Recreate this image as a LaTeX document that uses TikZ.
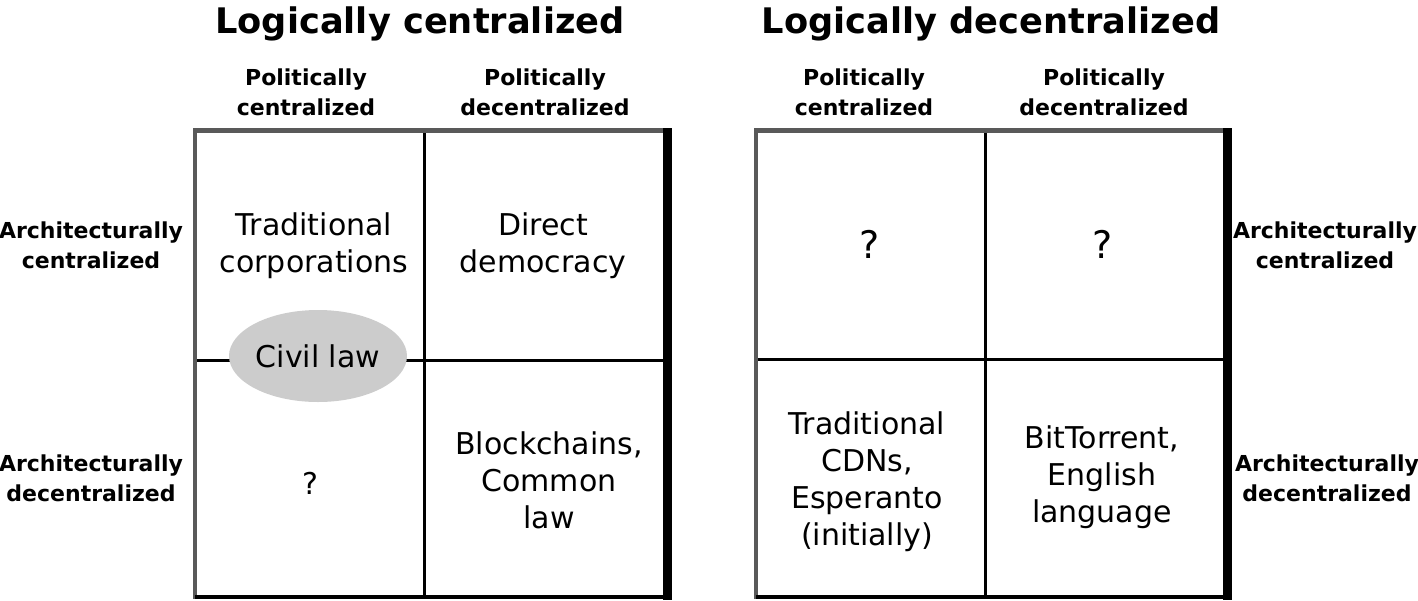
\documentclass[tikz,border=0pt]{standalone}
\usepackage{fontspec}
\setmainfont{DejaVu Sans}
\usetikzlibrary{shapes.geometric,positioning}

\begin{document}
\begin{tikzpicture}[x=0.5pt,y=-0.5pt,
        cell/.style={align=center,font=\fontsize{15}{18.5}\selectfont},
        qmark/.style={font=\fontsize{19}{22}\selectfont},
        label/.style={align=center,font=\bfseries\fontsize{11}{15}\selectfont},
        title/.style={font=\bfseries\fontsize{17.6}{20}\selectfont},
        inner/.style={line width=1.5pt},
        edgeA/.style={line width=2.3pt,black!65},
        edgeB/.style={line width=4.5pt}]

    \useasboundingbox (0,0) rectangle (1418,600);

    \draw[inner] (424,130) -- (424,597) (195,360) -- (668,360);
    \draw[inner] (985,130) -- (985,597) (756,359) -- (1228,359);
    \draw[edgeA] (195,599) -- (195,130.5) -- (668,130.5);
    \draw[edgeA] (756,599) -- (756,130.5) -- (1228,130.5);
    \draw[edgeB] (667.5,128) -- (667.5,600);
    \draw[edgeB] (1227.5,128) -- (1227.5,600);
    \draw[line width=2pt] (195,597) -- (667,597) (756,597) -- (1227,597);

    \node[title,anchor=base] (lc) at (420,33) {Logically centralized};
    \node[title,anchor=base] (ld) at (991,33) {Logically decentralized};

    \node[label] (pc1) at (306,92) {Politically\\centralized};
    \node[label] (pd1) at (545,92) {Politically\\decentralized};
    \node[label] (pc2) at (864,92) {Politically\\centralized};
    \node[label] (pd2) at (1104,92) {Politically\\decentralized};

    \node[label] (ac1) at (91,245) {Architecturally\\centralized};
    \node[label] (ad1) at (91,478) {Architecturally\\decentralized};
    \node[label] (ac2) at (1325,245) {Architecturally\\centralized};
    \node[label] (ad2) at (1327,478) {Architecturally\\decentralized};

    \node[cell] (tc) at (314,246) {Traditional\\corporations};
    \node[cell] (dd) at (543,246) {Direct\\democracy};
    \fill[black!20] (318,356) ellipse [x radius=89, y radius=46];
    \node[cell] (cl) at (318,356) {Civil law};
    \node[cell] (q1) at (310,483) {?};
    \node[cell] (bc) at (549,480) {Blockchains,\\Common\\law};

    \node[qmark] (q2) at (870,244) {?};
    \node[qmark] (q3) at (1103,244) {?};
    \node[cell] (cdn) at (867,482) {Traditional\\CDNs,\\Esperanto\\(initially)};
    \node[cell] (bt) at (1102,477) {BitTorrent,\\English\\language};

\end{tikzpicture}
\end{document}
